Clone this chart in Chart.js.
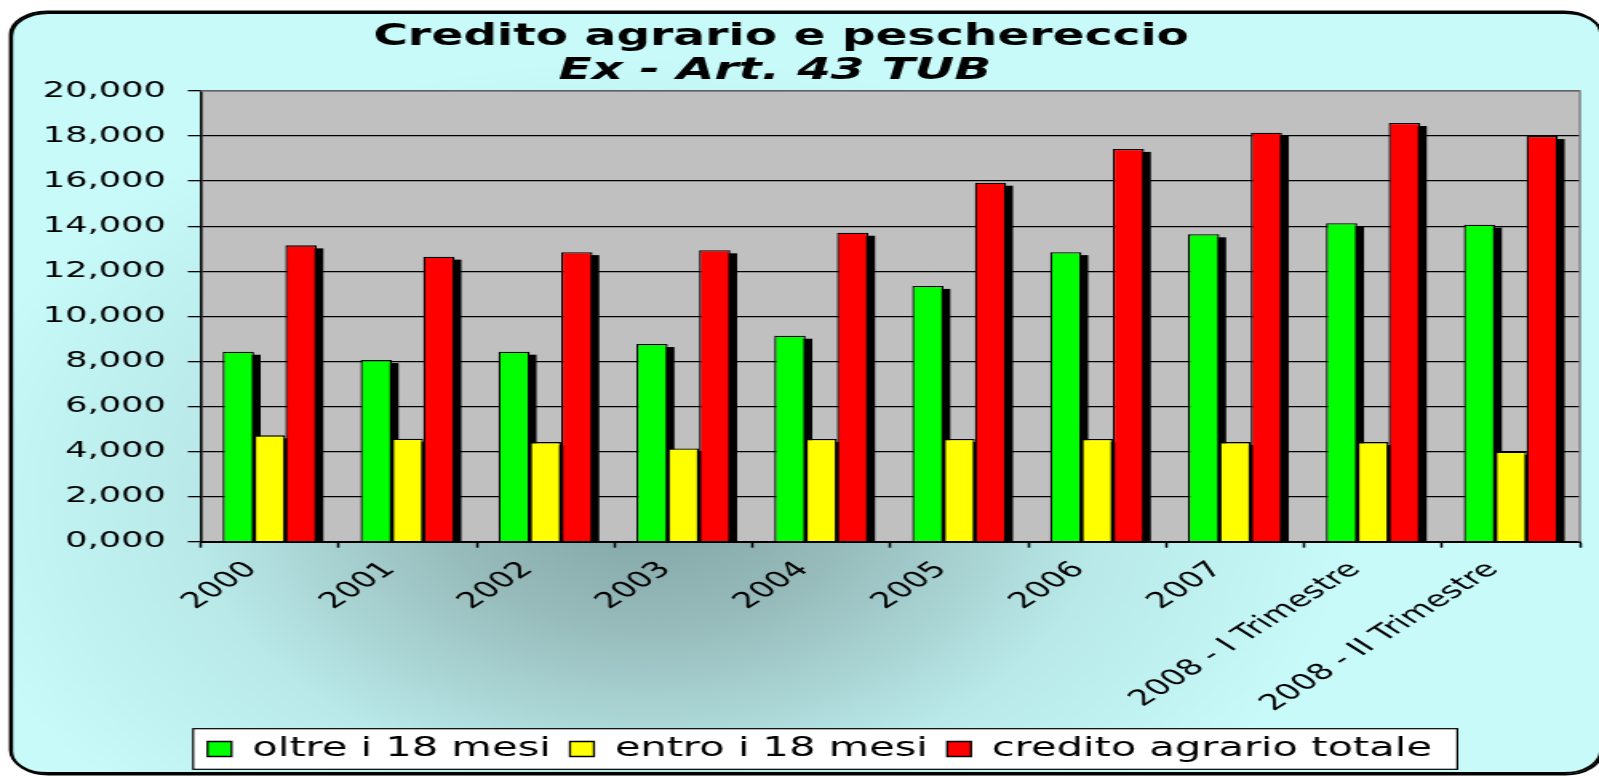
<!DOCTYPE html>
<html>
<head>
<meta charset="utf-8">
<script src="https://cdn.jsdelivr.net/npm/chart.js@4/dist/chart.umd.min.js"></script>
<style>
html,body{margin:0;padding:0;background:#fff;overflow:hidden;}
#wrap{width:1000px;height:776px;transform:scaleX(1.599);transform-origin:0 0;}
canvas{display:block;}
</style>
</head>
<body>
<div id="wrap"><canvas id="c" width="1000" height="776"></canvas></div>
<script>
// ---- data ----
const categories = ["2000","2001","2002","2003","2004","2005","2006","2007","2008 - I Trimestre","2008 - II Trimestre"];
const seriesNames = ["oltre i 18 mesi","entro i 18 mesi","credito agrario totale"];
const oltre18 = [8430, 8060, 8430, 8770, 9140, 11350, 12850, 13640, 14130, 14070];
const entro18 = [4720, 4570, 4420, 4140, 4560, 4560, 4560, 4420, 4420, 3990];
const totale  = [13150, 12650, 12850, 12930, 13710, 15930, 17430, 18150, 18580, 18000];
const yTickLabels = ["0,000","2,000","4,000","6,000","8,000","10,000","12,000","14,000","16,000","18,000","20,000"];
const titleLines = ["Credito agrario e peschereccio", "Ex - Art. 43 TUB"];

const FONT = "'DejaVu Sans', Verdana, sans-serif";
Chart.defaults.font.family = FONT;
Chart.defaults.color = '#000';

const PLOT_BOTTOM = 541.7;
const PAD_BOTTOM = 4;
const LEGEND_SHIFT = 18.6;

const decorPlugin = {
  id: 'decor',
  afterLayout(chart) {
    const lg = chart.legend;
    if (lg) { lg.left += LEGEND_SHIFT; lg.right += LEGEND_SHIFT; }
  },
  beforeDraw(chart) {
    const ctx = chart.ctx, a = chart.chartArea;
    ctx.save();
    ctx.fillStyle = '#fff';
    ctx.fillRect(0, 0, chart.width, chart.height);
    // outer rounded frame with gradient
    const g = ctx.createRadialGradient(405, 500, 0, 405, 500, 440);
    g.addColorStop(0, '#7fa2a2');
    g.addColorStop(0.3, '#98bcbc');
    g.addColorStop(0.65, '#b9e9e9');
    g.addColorStop(1, '#c8fafa');
    ctx.beginPath();
    ctx.roundRect(6.5, 11.5, 994.5, 761.5, 23);
    ctx.fillStyle = g;
    ctx.fill();
    ctx.shadowColor = '#000';
    ctx.shadowOffsetX = 0.8;
    ctx.shadowOffsetY = 1.5;
    ctx.shadowBlur = 0;
    ctx.lineWidth = 1.8;
    ctx.strokeStyle = '#000';
    ctx.stroke();
    ctx.restore();
    // plot area
    ctx.save();
    ctx.fillStyle = '#c0c0c0';
    ctx.fillRect(a.left, a.top, a.right - a.left, a.bottom - a.top);
    ctx.restore();
    // legend frame
    const hb = chart.legend && chart.legend.legendHitBoxes;
    if (hb && hb.length) {
      const l = Math.min(...hb.map(h => h.left)) - 9;
      const r = Math.max(...hb.map(h => h.left + h.width)) + 16;
      const cy = hb[0].top + hb[0].height / 2;
      ctx.save();
      ctx.fillStyle = '#fff';
      ctx.fillRect(l, cy - 20.3, r - l, 40.6);
      ctx.lineWidth = 1.2;
      ctx.strokeStyle = '#000';
      ctx.strokeRect(l, cy - 20.3, r - l, 40.6);
      ctx.restore();
    }
  },
  beforeDatasetsDraw(chart) {
    const ctx = chart.ctx, a = chart.chartArea;
    ctx.save();
    // plot border top/right (grey)
    ctx.strokeStyle = '#808080';
    ctx.lineWidth = 1.5;
    ctx.beginPath();
    ctx.moveTo(a.left, a.top);
    ctx.lineTo(a.right, a.top);
    ctx.lineTo(a.right, a.bottom);
    ctx.stroke();
    // bar shadows
    ctx.fillStyle = '#000';
    chart.data.datasets.forEach((ds, i) => {
      const meta = chart.getDatasetMeta(i);
      meta.data.forEach(bar => {
        const p = bar.getProps(['x', 'y', 'base', 'width'], true);
        const h = p.base - p.y - 3;
        if (h > 0) ctx.fillRect(p.x - p.width / 2 + 4.2, p.y + 3, p.width, h);
      });
    });
    ctx.restore();
  },
  afterDraw(chart) {
    const ctx = chart.ctx;
    ctx.save();
    ctx.fillStyle = '#000';
    ctx.textAlign = 'center';
    ctx.textBaseline = 'alphabetic';
    ctx.font = "bold 29.5px " + FONT;
    ctx.fillText(titleLines[0], 488.5, 45);
    ctx.font = "italic bold 30.4px " + FONT;
    ctx.fillText(titleLines[1], 484.5, 79);
    ctx.restore();
  }
};

const colors = ['#00ff00', '#ffff00', '#ff0000'];
const seriesValues = [oltre18, entro18, totale];

new Chart(document.getElementById('c'), {
  type: 'bar',
  data: {
    labels: categories,
    datasets: seriesValues.map((vals, i) => ({
      label: seriesNames[i],
      data: vals,
      backgroundColor: colors[i],
      borderColor: '#000',
      borderWidth: 1.3,
      barPercentage: 1.0,
      categoryPercentage: 0.682
    }))
  },
  options: {
    responsive: false,
    animation: false,
    devicePixelRatio: 1,
    layout: { padding: { left: 0, right: 12, top: 91, bottom: PAD_BOTTOM } },
    plugins: {
      title: { display: false },
      tooltip: { enabled: false },
      legend: {
        position: 'bottom',
        labels: {
          boxWidth: 15,
          boxHeight: 15,
          padding: 12,
          font: { size: 26 },
          color: '#000'
        }
      }
    },
    scales: {
      x: {
        offset: true,
        grid: { display: true, drawOnChartArea: false, drawTicks: true, tickLength: 6, tickColor: '#000', tickWidth: 1.5, offset: true },
        border: { display: true, color: '#000', width: 2 },
        ticks: { autoSkip: false, maxRotation: 45, minRotation: 45, font: { size: 22 }, color: '#000', padding: 9, labelOffset: -11 },
        afterFit(s) { s.height = s.chart.height - PAD_BOTTOM - s.chart.legend.height - PLOT_BOTTOM; }
      },
      y: {
        min: 0, max: 20000,
        ticks: {
          stepSize: 2000,
          font: { size: 22 },
          color: '#000',
          padding: 13.7,
          callback: (v, i) => yTickLabels[i]
        },
        grid: { color: '#000', lineWidth: 1.3, tickLength: 8, tickColor: '#000', tickWidth: 1.3 },
        border: { display: true, color: '#000', width: 1.6 },
        afterFit(s) { s.width = 125.5; }
      }
    }
  },
  plugins: [decorPlugin]
});
</script>
</body>
</html>
